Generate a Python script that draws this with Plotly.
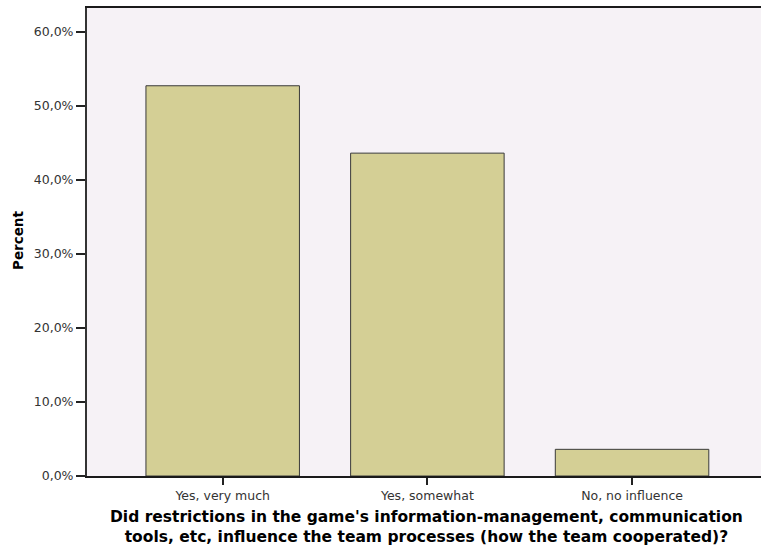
import plotly.graph_objects as go

categories = ["Yes, very much", "Yes, somewhat", "No, no influence"]
percent = [52.7, 43.6, 3.6]
y_ticks = [0, 10, 20, 30, 40, 50, 60]
y_tick_labels = ["0,0%", "10,0%", "20,0%", "30,0%", "40,0%", "50,0%", "60,0%"]
y_title = "Percent"
x_title_lines = [
    "Did restrictions in the game's information-management, communication",
    "tools, etc, influence the team processes (how the team cooperated)?",
]

W, H = 761, 545
L, R, T, B = 87, 0, 8, 69
PW, PH = W - L - R, H - T - B

tick_font = dict(size=12.5, color="#333", family="DejaVu Sans, Verdana, sans-serif")

fig = go.Figure()
fig.add_trace(go.Bar(
    x=categories, y=percent, width=0.75,
    marker=dict(color="#D4CF95", line=dict(color="#3a3a3a", width=1)),
))

fig.update_layout(
    width=W, height=H, autosize=False,
    margin=dict(l=L, r=R, t=T, b=B, pad=0),
    paper_bgcolor="white", plot_bgcolor="#F6F2F6",
    showlegend=False,
    font=dict(family="DejaVu Sans, Verdana, sans-serif", color="#222"),
)
fig.update_xaxes(
    range=[-0.663, 2.63], showline=True, linecolor="#1a1a1a", linewidth=2,
    mirror=True, ticks="outside", ticklen=7, tickcolor="#222", tickwidth=1.5,
    tickfont=tick_font, showgrid=False, zeroline=False, automargin=False,
)
fig.update_yaxes(
    range=[0, 63.2], tickvals=y_ticks, ticktext=y_tick_labels,
    showline=True, linecolor="#333", linewidth=2, mirror=True,
    ticks="outside", ticklen=9, tickcolor="#222", tickwidth=1.5,
    tickfont=tick_font, showgrid=False, zeroline=False, automargin=False,
)


def px_x(px):
    return (px - L) / PW


def px_y(py):
    return (T + PH - py) / PH


fig.add_annotation(
    text="<b>" + y_title + "</b>", textangle=-90, xref="paper", yref="paper",
    x=px_x(18), y=px_y(241), xanchor="center", yanchor="middle", showarrow=False,
    font=dict(size=13.5, color="#000", family="DejaVu Sans, Verdana, sans-serif"),
)
fig.add_annotation(
    text="<b>" + "<br>".join(x_title_lines) + "</b>",
    xref="paper", yref="paper", x=px_x(426), y=px_y(527),
    xanchor="center", yanchor="middle", showarrow=False, align="center",
    font=dict(size=15.5, color="#000", family="DejaVu Sans, Verdana, sans-serif"),
)

fig.write_html(
    "out.html",
    config={"displayModeBar": False},
    post_script="document.body.style.margin='0';document.body.style.overflow='hidden';",
)
